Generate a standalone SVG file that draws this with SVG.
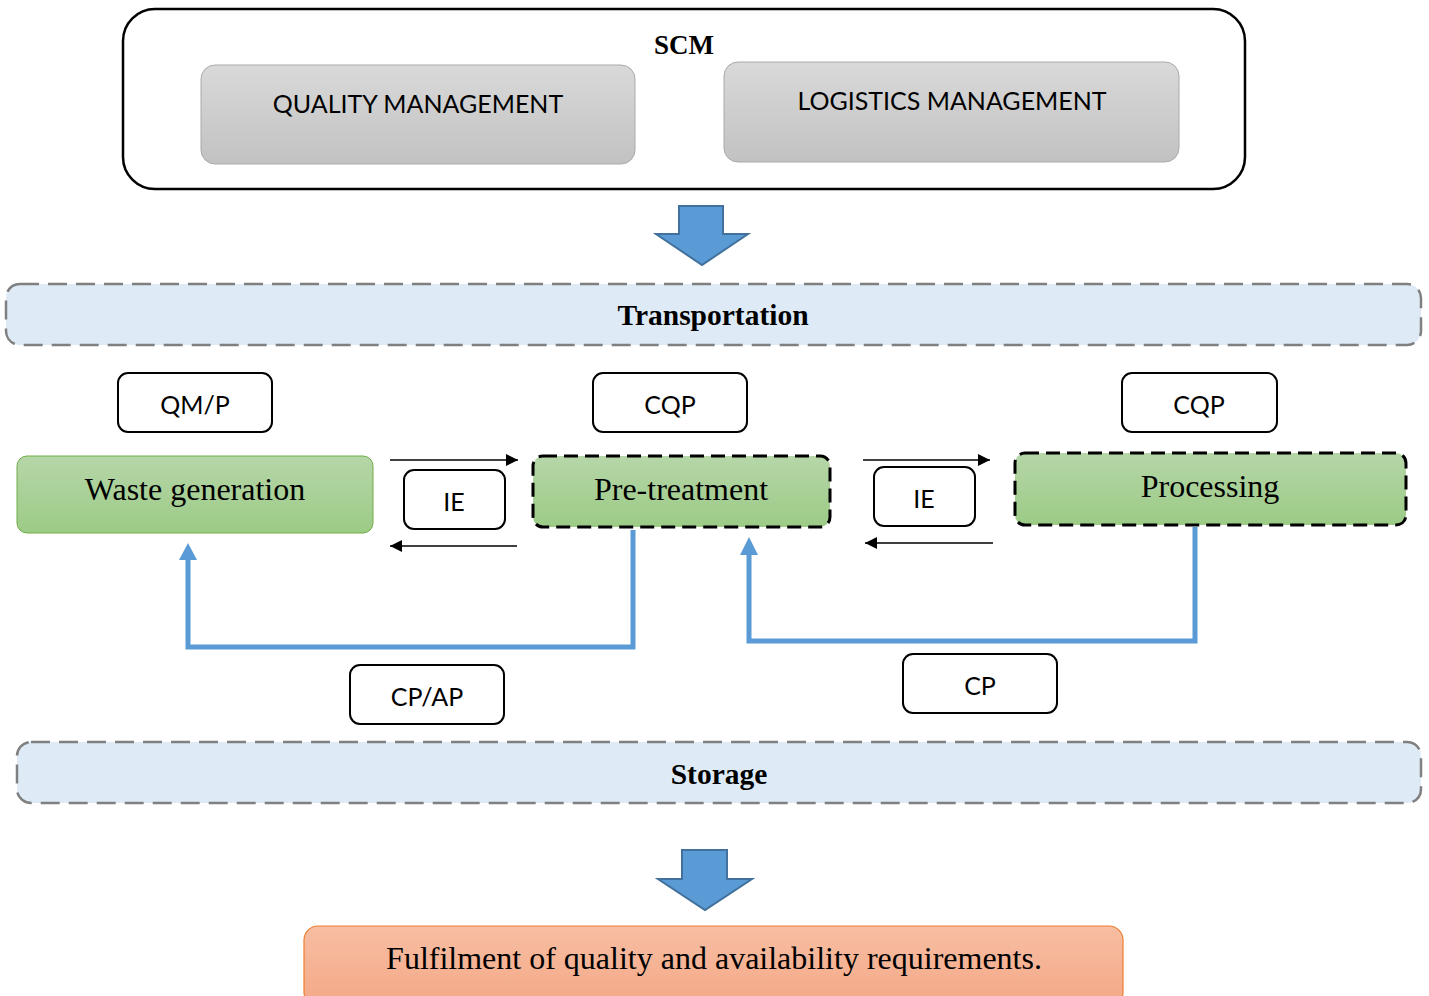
<svg xmlns="http://www.w3.org/2000/svg" width="1429" height="996" viewBox="0 0 1429 996">
<defs>
<linearGradient id="gGray" x1="0" y1="0" x2="0" y2="1"><stop offset="0" stop-color="#d9d9d9"/><stop offset="1" stop-color="#c2c2c2"/></linearGradient>
<linearGradient id="gGreen" x1="0" y1="0" x2="0" y2="1"><stop offset="0" stop-color="#b6d6a8"/><stop offset="1" stop-color="#9ccb86"/></linearGradient>
<linearGradient id="gOrange" x1="0" y1="0" x2="0" y2="1"><stop offset="0" stop-color="#f7bea3"/><stop offset="1" stop-color="#f4a886"/></linearGradient>
<marker id="blk" viewBox="0 0 10 10" refX="10" refY="5" markerWidth="14" markerHeight="12" markerUnits="userSpaceOnUse" orient="auto"><path d="M0,0 L10,5 L0,10 Z" fill="#000"/></marker>
</defs>
<style>
.lbl{fill:#fff;stroke:#000;stroke-width:2}
.sans{font-family:Lato,"Liberation Sans",sans-serif;font-size:25px;fill:#000;text-anchor:middle}
.serif{font-family:"Liberation Serif","Times New Roman",serif;fill:#000;text-anchor:middle}
.band{fill:#deebf7;stroke:#808080;stroke-width:2.5;stroke-dasharray:19 9}
.green{fill:url(#gGreen)}
.dash{stroke:#000;stroke-width:3;stroke-dasharray:14 7}
.bigarrow{fill:#5b9bd5;stroke:#41719c;stroke-width:2}
.thin{stroke:#000;stroke-width:1.3;fill:none}
.blue{stroke:#5b9bd5;stroke-width:5;fill:none}
</style>

<g id="scm">
<rect x="123" y="9" width="1122" height="180" rx="32" fill="#fff" stroke="#000" stroke-width="2.5"/>
<text x="684" y="54" class="serif" font-size="27" font-weight="bold">SCM</text>
</g>
<g id="quality">
<rect x="201" y="65" width="434" height="99" rx="14" fill="url(#gGray)" stroke="#aaaaaa" stroke-width="1"/>
<text x="418" y="113" class="sans">QUALITY MANAGEMENT</text>
</g>
<g id="logistics">
<rect x="724" y="62" width="455" height="100" rx="14" fill="url(#gGray)" stroke="#aaaaaa" stroke-width="1"/>
<text x="952" y="110" class="sans">LOGISTICS MANAGEMENT</text>
</g>

<g id="arrow1">
<path class="bigarrow" d="M679,206 H723 V234 H748 L702,265 L656,234 H679 Z"/>
</g>

<g id="transportation">
<rect class="band" x="6" y="284" width="1415" height="61" rx="14"/>
<text x="713" y="325" class="serif" font-size="29.5" font-weight="bold">Transportation</text>
</g>

<g id="qmp"><rect class="lbl" x="118" y="373" width="154" height="59" rx="10"/><text x="195" y="414" class="sans">QM/P</text></g>
<g id="cqp1"><rect class="lbl" x="593" y="373" width="154" height="59" rx="10"/><text x="670" y="414" class="sans">CQP</text></g>
<g id="cqp2"><rect class="lbl" x="1122" y="373" width="155" height="59" rx="10"/><text x="1199" y="414" class="sans">CQP</text></g>

<g id="waste">
<rect class="green" x="17" y="456" width="356" height="77" rx="10" stroke="#70ad47" stroke-width="1"/>
<text x="195" y="500" class="serif" font-size="32">Waste generation</text>
</g>
<g id="pretreatment">
<rect class="green dash" x="533" y="456" width="297" height="71" rx="10"/>
<text x="681" y="500" class="serif" font-size="32">Pre-treatment</text>
</g>
<g id="processing">
<rect class="green dash" x="1015" y="453" width="391" height="72" rx="10"/>
<text x="1210" y="497" class="serif" font-size="32">Processing</text>
</g>

<g id="ie1"><rect class="lbl" x="404" y="470" width="101" height="59" rx="10"/><text x="454" y="511" class="sans">IE</text></g>
<g id="ie2"><rect class="lbl" x="874" y="467" width="101" height="59" rx="10"/><text x="924" y="508" class="sans">IE</text></g>

<g id="cpap"><rect class="lbl" x="350" y="665" width="154" height="59" rx="10"/><text x="427" y="706" class="sans">CP/AP</text></g>
<g id="cp"><rect class="lbl" x="903" y="654" width="154" height="59" rx="10"/><text x="980" y="695" class="sans">CP</text></g>

<g id="connectors">
<line class="thin" x1="390" y1="460" x2="518" y2="460" marker-end="url(#blk)"/>
<line class="thin" x1="517" y1="546" x2="390" y2="546" marker-end="url(#blk)"/>
<line class="thin" x1="863" y1="460" x2="990" y2="460" marker-end="url(#blk)"/>
<line class="thin" x1="993" y1="543" x2="865" y2="543" marker-end="url(#blk)"/>
<path class="blue" d="M633,530 V647 H188 V559"/>
<path d="M179,560 L188,543 L197,560 Z" fill="#5b9bd5"/>
<path class="blue" d="M1195,527 V641 H749 V554"/>
<path d="M740,555 L749,537 L758,555 Z" fill="#5b9bd5"/>
</g>

<g id="storage">
<rect class="band" x="17" y="742" width="1404" height="61" rx="14"/>
<text x="719" y="784" class="serif" font-size="29.5" font-weight="bold">Storage</text>
</g>

<g id="arrow2">
<path class="bigarrow" d="M682,850 H727 V879 H752 L705,910 L658,879 H682 Z"/>
</g>

<g id="fulfilment">
<rect x="304" y="926" width="819" height="80" rx="14" fill="url(#gOrange)" stroke="#ed7d31" stroke-width="1.2"/>
<text x="714" y="969" class="serif" font-size="32">Fulfilment of quality and availability requirements.</text>
</g>
</svg>
